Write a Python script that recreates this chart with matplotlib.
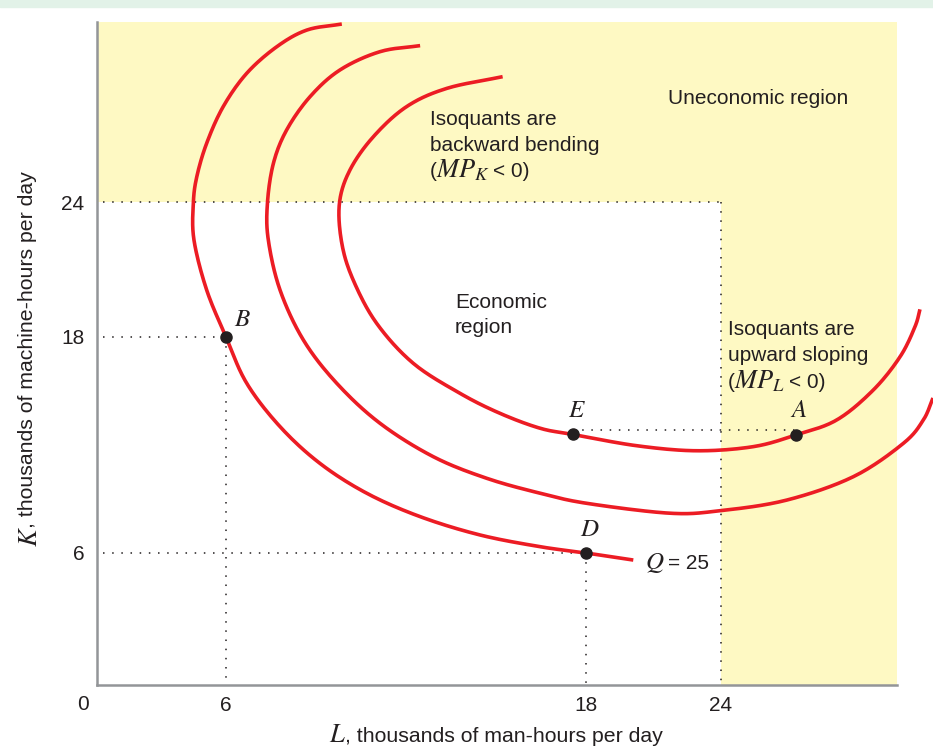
import numpy as np
import matplotlib.pyplot as plt
from matplotlib.patches import Rectangle

plt.rcParams['font.family'] = ['Liberation Sans', 'DejaVu Sans']
plt.rcParams['mathtext.fontset'] = 'stix'

# isoquants, L and K in thousands of hours per day
q25_L = [9.86, 8.69, 7.69, 6.69, 5.87, 5.10, 4.64, 4.48, 4.51, 5.10, 6.0, 6.69,
         7.80, 9.13, 10.69, 12.47, 14.47, 16.47, 18.0, 20.10]
q25_K = [31.91, 31.64, 30.90, 29.72, 28.24, 26.61, 25.12, 23.94, 22.31, 20.09, 18.0, 15.43,
         13.02, 10.98, 9.32, 8.02, 7.00, 6.35, 6.0, 5.68]

mid_L = [12.47, 11.13, 9.80, 8.80, 8.02, 7.58, 7.38, 7.41, 7.80, 8.58, 9.69, 11.13,
         12.91, 14.69, 16.47, 18.03, 21.73, 23.96, 26.92, 29.88, 32.10, 32.99, 33.42]
mid_K = [30.95, 30.68, 29.87, 28.68, 27.20, 25.72, 23.94, 22.31, 20.09, 17.83, 15.43, 13.21,
         11.35, 10.15, 9.32, 8.76, 8.21, 8.35, 8.94, 10.24, 12.09, 13.39, 14.61]

top_L = [15.22, 13.36, 12.02, 10.91, 10.13, 9.78, 9.86, 10.24, 11.02, 12.24, 13.80, 15.13,
         16.47, 17.55, 20.25, 22.92, 25.44, 27.33, 29.14, 30.77, 31.96, 32.62, 32.84]
top_K = [29.57, 29.05, 28.24, 26.90, 25.42, 23.94, 22.16, 20.53, 18.61, 16.54, 14.87, 13.76,
         12.93, 12.59, 11.96, 11.68, 11.91, 12.56, 13.39, 15.06, 16.91, 18.46, 19.23]

pt_names = ['B', 'D', 'E', 'A']
pt_L = [6, 18, 17.55, 27.33]
pt_K = [18, 6, 12.59, 12.56]

ticks = [6, 18, 24]
limit = 24          # edge of the economic region
ea_K = 12.85        # dotted line from E to A

# the drawing is not to scale: piecewise mapping from values to pixels
x_kn = [-100, 0, 6, 18, 24, 100]
x_px = [-2150, 0, 129, 489, 624, 2334]
y_kn = [-100, 0, 6, 18, 24, 100]
y_px = [-2200, 0, 132, 348, 483, 2193]


def fx(v): return np.interp(v, x_kn, x_px)
def ix(p): return np.interp(p, x_px, x_kn)
def fy(v): return np.interp(v, y_kn, y_px)
def iy(p): return np.interp(p, y_px, y_kn)


def smooth(L, K, n=16):
    # catmull-rom through the read points, done in drawn (pixel) space
    P = np.column_stack([fx(np.array(L)), fy(np.array(K))])
    P = np.vstack([2 * P[0] - P[1], P, 2 * P[-1] - P[-2]])
    t = np.linspace(0, 1, n, endpoint=False)[:, None]
    out = []
    for i in range(1, len(P) - 2):
        p0, p1, p2, p3 = P[i - 1], P[i], P[i + 1], P[i + 2]
        out.append(0.5 * (2 * p1 + (p2 - p0) * t + (2 * p0 - 5 * p1 + 4 * p2 - p3) * t ** 2
                          + (3 * p1 - p0 - 3 * p2 + p3) * t ** 3))
    out.append(P[-2][None, :])
    out = np.vstack(out)
    return ix(out[:, 0]), iy(out[:, 1])


red = '#ec1c24'
ink = '#231f20'
yellow = '#fef9c3'

W, H = 933, 748
fig = plt.figure(figsize=(W / 100, H / 100), dpi=100)
fig.patches.append(Rectangle((0, 1 - 7 / H), 1, 7 / H, transform=fig.transFigure,
                             color='#e2f2e8', zorder=0))
ax = fig.add_axes([97 / W, 63 / H, 800 / W, 663 / H])
ax.set_xscale('function', functions=(fx, ix))
ax.set_yscale('function', functions=(fy, iy))
xmax, ymax = 31.82, 32.0
ax.set_xlim(0, xmax)
ax.set_ylim(0, ymax)

# uneconomic region
ax.fill_between([0, xmax], limit, ymax, color=yellow, lw=0, zorder=0)
ax.fill_between([limit, xmax], 0, limit, color=yellow, lw=0, zorder=0)

dot = dict(color=ink, lw=1.1, ls=(0, (1, 5)), zorder=1)
ax.plot([0.3, limit], [limit, limit], **dot)
ax.plot([limit, limit], [limit, 0], **dot)
ax.plot([0.3, pt_L[0]], [pt_K[0], pt_K[0]], **dot)
ax.plot([pt_L[0], pt_L[0]], [pt_K[0], 0], **dot)
ax.plot([0.3, pt_L[1]], [pt_K[1], pt_K[1]], **dot)
ax.plot([pt_L[1], pt_L[1]], [pt_K[1], 0], **dot)
ax.plot([pt_L[2], pt_L[3]], [ea_K, ea_K], **dot)

for L, K in [(q25_L, q25_K), (mid_L, mid_K), (top_L, top_K)]:
    sL, sK = smooth(L, K)
    ax.plot(sL, sK, color=red, lw=2.6, solid_capstyle='butt', clip_on=False, zorder=3)

ax.plot(pt_L, pt_K, 'o', color=ink, ms=8, zorder=4)
offs = {'B': (8, 11, 'left'), 'D': (4, 17, 'center'), 'E': (4, 17, 'center'), 'A': (3, 18, 'center')}
for n, L, K in zip(pt_names, pt_L, pt_K):
    dx, dy, ha = offs[n]
    ax.annotate('$' + n + '$', (L, K), xytext=(dx, dy), textcoords='offset pixels',
                ha=ha, va='baseline', fontsize=18, color=ink)
ax.annotate('$Q$', (q25_L[-1], q25_K[-1]), xytext=(12, -9), textcoords='offset pixels',
            ha='left', va='baseline', fontsize=18, color=ink)
ax.annotate('= 25', (q25_L[-1], q25_K[-1]), xytext=(35, -9), textcoords='offset pixels',
            ha='left', va='baseline', fontsize=15, color=ink)

ax.set_xticks(ticks)
ax.set_yticks(ticks)
ax.tick_params(length=0, labelsize=15, labelcolor=ink)
ax.tick_params(axis='x', pad=8)
ax.tick_params(axis='y', pad=9)
for s in ['top', 'right']:
    ax.spines[s].set_visible(False)
for s in ['left', 'bottom']:
    ax.spines[s].set_color('#939598')
    ax.spines[s].set_linewidth(1.8)


def ftext(px, py, s, size=15, **kw):
    fig.text(px / W, 1 - py / H, s, fontsize=size, color=ink, va='baseline', **kw)


# axis titles with a larger italic letter in front
ftext(329, 742, '$L$', size=19)
ftext(345, 742, ', thousands of man-hours per day', size=15.3)
fig.text(18 / W, 1 - 547 / H, '$K$', fontsize=19, color=ink, rotation=90,
         ha='left', va='bottom')
fig.text(18 / W, 1 - 528 / H, ', thousands of machine-hours per day', fontsize=15.3,
         color=ink, rotation=90, ha='left', va='bottom')

ftext(83, 710, '0', ha='center')
ftext(668, 104, 'Uneconomic region')
ftext(430, 125, 'Isoquants are')
ftext(430, 151, 'backward bending')
ftext(430, 177, '(')
ftext(436, 177, '$MP_K$', size=19)
ftext(493, 177, '< 0)')
ftext(455, 308, 'Economic')
ftext(455, 333, 'region')
ftext(728, 335, 'Isoquants are')
ftext(728, 361, 'upward sloping')
ftext(728, 388, '(')
ftext(734, 388, '$MP_L$', size=19)
ftext(789, 388, '< 0)')

fig.savefig('out.png', dpi=100)
